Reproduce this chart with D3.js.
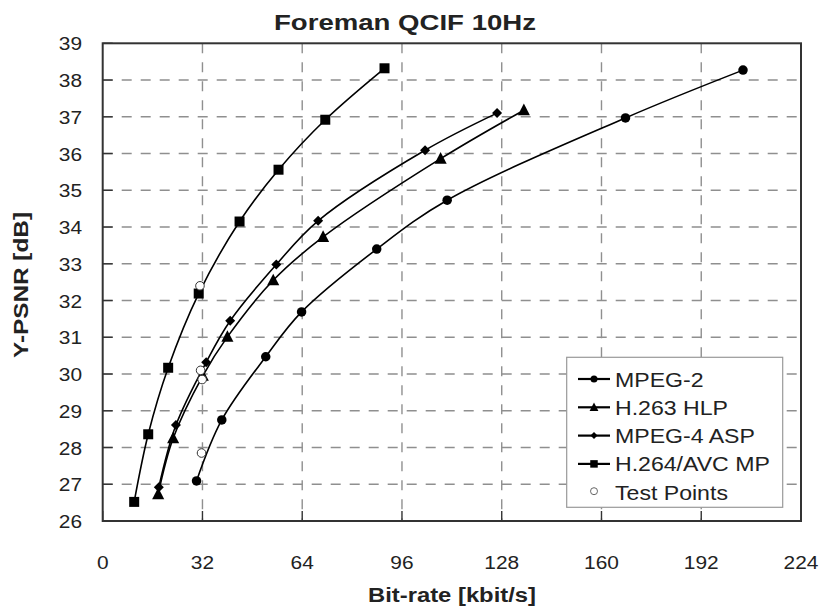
<!DOCTYPE html>
<html><head><meta charset="utf-8">
<script src="https://cdn.jsdelivr.net/npm/d3@7"></script>
<style>body{margin:0;background:#fff}svg{display:block}text{font-family:Arial,"Liberation Sans",sans-serif;fill:#222}</style>
</head><body><svg id="c" width="822" height="612"></svg>
<script>
const xTicks = [0, 32, 64, 96, 128, 160, 192, 224];
const yTicks = [26, 27, 28, 29, 30, 31, 32, 33, 34, 35, 36, 37, 38, 39];

const seriesNames = ["MPEG-2", "H.263 HLP", "MPEG-4 ASP", "H.264/AVC MP"];
const seriesMarkers = ["circle", "triangle", "diamond", "square"];

const mpeg2X = [30.1, 38.2, 52.3, 63.8, 87.9, 110.5, 167.7, 205.4];
const mpeg2Y = [27.09, 28.75, 30.47, 31.69, 33.40, 34.73, 36.97, 38.27];
const h263X = [17.8, 22.6, 32.1, 40.0, 54.7, 70.7, 108.4, 135.1];
const h263Y = [26.73, 28.25, 29.95, 31.01, 32.55, 33.73, 35.86, 37.18];
const mpeg4X = [18.0, 23.5, 33.2, 40.9, 55.7, 69.1, 103.4, 126.5];
const mpeg4Y = [26.92, 28.61, 30.32, 31.45, 32.98, 34.17, 36.09, 37.10];
const h264X = [10.1, 14.6, 21.0, 30.8, 43.9, 56.4, 71.4, 90.4];
const h264Y = [26.52, 28.36, 30.17, 32.19, 34.15, 35.56, 36.92, 38.32];
const testX = [31.2, 31.4, 31.9, 31.7];
const testY = [32.4, 30.1, 29.85, 27.85];

const title = "Foreman QCIF 10Hz";
const xTitle = "Bit-rate [kbit/s]";
const yTitle = "Y-PSNR [dB]";

const seriesX = [mpeg2X, h263X, mpeg4X, h264X];
const seriesY = [mpeg2Y, h263Y, mpeg4Y, h264Y];

const L = 102.7, R = 801, T = 43.3, B = 521;
const svg = d3.select("#c");
const x = d3.scaleLinear().domain([0, 224]).range([L, R]);
const y = d3.scaleLinear().domain([26, 39]).range([B, T]);

// grid
const g = svg.append("g");
g.selectAll("line.gx").data(xTicks.filter(v => v > 0 && v < 224)).join("line")
  .attr("x1", d => x(d)).attr("x2", d => x(d)).attr("y1", T).attr("y2", B)
  .attr("stroke", "#8f8f8f").attr("stroke-width", 1.4).attr("stroke-dasharray", "10,9");
g.selectAll("line.gy").data(yTicks.filter(v => v > 26 && v < 39)).join("line")
  .attr("y1", d => y(d)).attr("y2", d => y(d)).attr("x1", L).attr("x2", R)
  .attr("stroke", "#8f8f8f").attr("stroke-width", 1.4).attr("stroke-dasharray", "10,9");

// ticks (inward)
g.selectAll("line.tx").data(xTicks).join("line")
  .attr("x1", d => x(d)).attr("x2", d => x(d)).attr("y1", B).attr("y2", B - 10)
  .attr("stroke", "#333").attr("stroke-width", 1.4);
g.selectAll("line.ty").data(yTicks).join("line")
  .attr("y1", d => y(d)).attr("y2", d => y(d)).attr("x1", L).attr("x2", L + 10)
  .attr("stroke", "#333").attr("stroke-width", 1.4);

// border
svg.append("rect").attr("x", L).attr("y", T).attr("width", R - L).attr("height", B - T)
  .attr("fill", "none").attr("stroke", "#333").attr("stroke-width", 2);

// tick labels
svg.append("g").selectAll("text").data(xTicks).join("text")
  .attr("transform", d => `translate(${x(d)},569) scale(1.13,1)`)
  .attr("text-anchor", "middle").style("font-size", "18.5px").text(d => d);
svg.append("g").selectAll("text").data(yTicks).join("text")
  .attr("transform", d => `translate(82,${y(d) + 7}) scale(1.13,1)`)
  .attr("text-anchor", "end").style("font-size", "18.5px").text(d => d);

// titles
svg.append("text").attr("x", 274).attr("y", 29.5).attr("textLength", 262).attr("lengthAdjust", "spacingAndGlyphs")
  .style("font-size", "22px").style("font-weight", "bold").text(title);
svg.append("text").attr("x", 368).attr("y", 602).attr("textLength", 168).attr("lengthAdjust", "spacingAndGlyphs")
  .style("font-size", "19.5px").style("font-weight", "bold").text(xTitle);
svg.append("text").attr("transform", "translate(28,358) rotate(-90)").attr("textLength", 146).attr("lengthAdjust", "spacingAndGlyphs")
  .style("font-size", "20px").style("font-weight", "bold").text(yTitle);

// markers
function marker(sel, type, s) {
  if (type === "circle") return sel.append("circle").attr("r", s * 0.5).attr("fill", "#000");
  if (type === "square") return sel.append("rect").attr("x", -s / 2).attr("y", -s / 2).attr("width", s).attr("height", s).attr("fill", "#000");
  if (type === "triangle") return sel.append("path").attr("d", `M0,${-s * 0.6}L${s * 0.55},${s * 0.45}L${-s * 0.55},${s * 0.45}Z`).attr("fill", "#000");
  if (type === "diamond") return sel.append("path").attr("d", `M0,${-s * 0.5}L${s * 0.5},0L0,${s * 0.5}L${-s * 0.5},0Z`).attr("fill", "#000");
}

const line = d3.line().x(d => x(d[0])).y(d => y(d[1])).curve(d3.curveCatmullRom.alpha(0.5));
const markerSize = [9.5, 11, 10, 10];
seriesNames.forEach((name, i) => {
  const pts = seriesX[i].map((v, j) => [v, seriesY[i][j]]);
  svg.append("path").datum(pts).attr("d", line).attr("fill", "none").attr("stroke", "#000").attr("stroke-width", 1.6);
  pts.forEach(p => {
    const m = svg.append("g").attr("transform", `translate(${x(p[0])},${y(p[1])})`);
    marker(m, seriesMarkers[i], markerSize[i]);
  });
});

// test points
svg.append("g").selectAll("circle").data(testX.map((v, j) => [v, testY[j]])).join("circle")
  .attr("cx", d => x(d[0])).attr("cy", d => y(d[1])).attr("r", 4.3)
  .attr("fill", "#fff").attr("stroke", "#333").attr("stroke-width", 1);

// legend
const lg = svg.append("g");
lg.append("rect").attr("x", 566.7).attr("y", 357.3).attr("width", 216).attr("height", 150)
  .attr("fill", "#fff").attr("stroke", "#999").attr("stroke-width", 1.2);
const legendNames = seriesNames.concat(["Test Points"]);
legendNames.forEach((name, i) => {
  const yy = 379 + i * 28.3;
  if (i < 4) {
    lg.append("line").attr("x1", 578).attr("x2", 610).attr("y1", yy).attr("y2", yy).attr("stroke", "#000").attr("stroke-width", 2.2);
    const m = lg.append("g").attr("transform", `translate(594,${yy})`);
    marker(m, seriesMarkers[i], [7, 8, 7, 7.5][i]);
  } else {
    lg.append("circle").attr("cx", 594).attr("cy", yy - 1).attr("r", 3.5).attr("fill", "#fff").attr("stroke", "#666");
  }
  lg.append("text").attr("transform", `translate(615,${yy + 7.5}) scale(1.1,1)`).style("font-size", "21px").text(name);
});
</script></body></html>
